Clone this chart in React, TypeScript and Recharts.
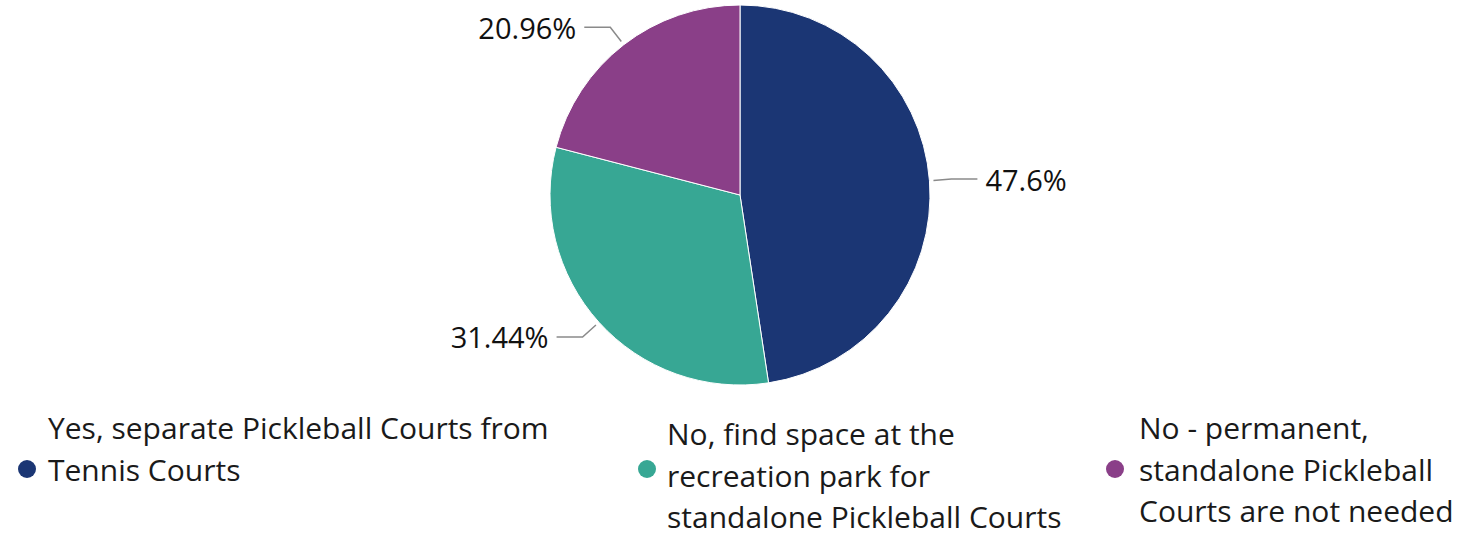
import { Cell, Pie, PieChart } from 'recharts';

const categories: Array<string> = [
  'Yes, separate Pickleball Courts from Tennis Courts',
  'No, find space at the recreation park for standalone Pickleball Courts',
  'No - permanent, standalone Pickleball Courts are not needed',
];

const shares: Array<number> = [47.6, 31.44, 20.96];

const legendLines: Array<Array<string>> = [
  ['Yes, separate Pickleball Courts from', 'Tennis Courts'],
  ['No, find space at the', 'recreation park for', 'standalone Pickleball Courts'],
  ['No - permanent,', 'standalone Pickleball', 'Courts are not needed'],
];

const colors = ['#1b3674', '#37a794', '#8a3f88'];

const data = categories.map((name, i) => ({ name, value: shares[i] }));

const FONT = '"Segoe UI", "Open Sans", sans-serif';
const RAD = Math.PI / 180;

const SliceLabel: React.FC<any> = ({ cx, cy, midAngle, outerRadius, value }) => {
  const cos = Math.cos(-midAngle * RAD);
  const sin = Math.sin(-midAngle * RAD);
  const x0 = cx + (outerRadius + 4) * cos;
  const y0 = cy + (outerRadius + 4) * sin;
  const x1 = cx + (outerRadius + 22) * cos;
  const y1 = cy + (outerRadius + 22) * sin;
  const right = cos >= 0;
  const x2 = x1 + (right ? 26 : -26);
  return (
    <g>
      <polyline
        points={`${x0},${y0} ${x1},${y1} ${x2},${y1}`}
        fill="none"
        stroke="#8a8a8a"
        strokeWidth={1.5}
      />
      <text
        x={x2 + (right ? 8 : -8)}
        y={y1}
        textAnchor={right ? 'start' : 'end'}
        dominantBaseline="central"
        fontFamily={FONT}
        fontSize={29}
        fill="#111"
      >
        {`${value}%`}
      </text>
    </g>
  );
};

// top = centre of first text line minus half the line box
const legendPos = [
  { dot: 27, text: 48, top: 412 },
  { dot: 647, text: 667, top: 418 },
  { dot: 1115, text: 1139, top: 412 },
];

export default function App() {
  return (
    <div style={{ position: 'absolute', left: 0, top: 0, width: 1483, height: 538, background: '#fff' }}>
      <PieChart width={1483} height={400} margin={{ top: 0, right: 0, bottom: 0, left: 0 }}>
        <Pie
          data={data}
          dataKey="value"
          nameKey="name"
          cx={740}
          cy={195}
          outerRadius={190}
          startAngle={90}
          endAngle={-270}
          stroke="#fff"
          strokeWidth={1}
          label={<SliceLabel />}
          labelLine={false}
          isAnimationActive={false}
        >
          {data.map((d, i) => (
            <Cell key={d.name} fill={colors[i]} />
          ))}
        </Pie>
      </PieChart>
      {legendLines.map((lines, i) => (
        <div key={i}>
          <div
            style={{
              position: 'absolute',
              left: legendPos[i].dot - 9,
              top: 469 - 9,
              width: 18,
              height: 18,
              borderRadius: 9,
              background: colors[i],
            }}
          />
          <div
            style={{
              position: 'absolute',
              left: legendPos[i].text,
              top: legendPos[i].top,
              fontFamily: FONT,
              fontSize: 30,
              lineHeight: '32px',
              color: '#1a1a1a',
              whiteSpace: 'nowrap',
            }}
          >
            {lines.map((l, j) => (
              <div key={l} style={{ marginTop: j === 0 ? 0 : 9.5 }}>
                {l}
              </div>
            ))}
          </div>
        </div>
      ))}
    </div>
  );
}
